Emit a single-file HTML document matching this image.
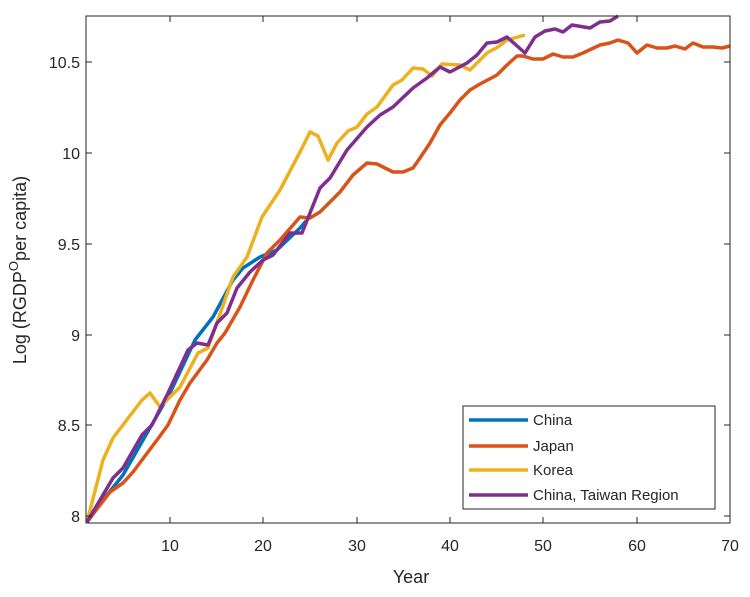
<!DOCTYPE html>
<html><head><meta charset="utf-8"><style>
body{margin:0;background:#fff;width:750px;height:592px;overflow:hidden}
svg text{font-family:"Liberation Sans",sans-serif;fill:#262626}
</style></head><body>
<svg width="750" height="592" viewBox="0 0 750 592">
<rect x="0" y="0" width="750" height="592" fill="#fff"/>
<g fill="none" stroke-width="3.5" stroke-linejoin="round">
<polyline stroke="#0072BD" points="87,522 107,495 123,475 170,393 195,340 213,317 233,280 243,268 260,257 277,250 300,228 306,221"/>
<polyline stroke="#D95319" points="87,522 110,492 123,483 133,472 157,440 168,425 180,400 190,383 207,360 217,343 225,333 240,307 253,280 267,253 280,240 300,217 310,218 320,212 340,192 353,175 367,163 377,164 393,172 403,172 413,168 420,158 430,143 440,125 450,113 460,100 470,90 480,84 497,75 507,65 517,56 523,56 533,59 543,59 553,54 563,57 573,57 583,53 600,45 610,43 618,40 628,43 637,53 647,45 657,48 667,48 675,46 685,49 693,43 703,47 713,47 722,48 730,46"/>
<polyline stroke="#EDB120" points="87,522 103,460 113,438 142,400 150,393 160,407 180,387 198,353 208,348 233,277 247,257 262,217 280,190 300,152 310,132 318,136 328,160 337,143 348,131 357,127 367,114 377,107 393,85 402,80 413,68 423,69 432,76 442,64 460,65 470,70 487,53 498,47 507,40 525,35"/>
<polyline stroke="#7E2F8E" points="87,522 113,478 123,468 142,435 152,425 168,393 188,350 197,343 208,345 217,323 227,313 237,288 250,272 263,260 273,255 290,233 302,233 320,188 330,178 347,150 367,127 380,115 393,107 413,88 427,78 440,67 450,72 467,63 477,55 487,43 497,42 507,37 525,53 535,37 545,31 555,29 563,32 572,25 590,28 600,22 610,21 618,16"/>
</g>
<rect x="86" y="16" width="644" height="507" fill="none" stroke="#262626" stroke-width="1"/>
<g stroke="#262626" stroke-width="1">
<path d="M170,523v-6M263,523v-6M357,523v-6M450,523v-6M543,523v-6M637,523v-6M170,16v6M263,16v6M357,16v6M450,16v6M543,16v6M637,16v6"/>
<path d="M86,516h6M86,425h6M86,335h6M86,244h6M86,153h6M86,62h6M730,516h-6M730,425h-6M730,335h-6M730,244h-6M730,153h-6M730,62h-6"/>
</g>
<g font-size="16" text-anchor="end">
<text x="80" y="522">8</text><text x="80" y="431">8.5</text><text x="80" y="341">9</text>
<text x="80" y="250">9.5</text><text x="80" y="159">10</text><text x="80" y="68">10.5</text>
</g>
<g font-size="16" text-anchor="middle">
<text x="170" y="551">10</text><text x="263" y="551">20</text><text x="357" y="551">30</text>
<text x="450" y="551">40</text><text x="543" y="551">50</text><text x="637" y="551">60</text><text x="730" y="551">70</text>
<text x="411" y="583" font-size="18">Year</text>
</g>
<text transform="translate(26,270) rotate(-90)" font-size="18" text-anchor="middle">Log (RGDP<tspan dy="-8" font-size="13">O</tspan><tspan dy="8">per capita)</tspan></text>
<rect x="463" y="406" width="252" height="103" fill="#fff" stroke="#262626" stroke-width="1"/>
<g stroke-width="3.5">
<line x1="469" y1="420" x2="528" y2="420" stroke="#0072BD"/>
<line x1="469" y1="446" x2="528" y2="446" stroke="#D95319"/>
<line x1="469" y1="470" x2="528" y2="470" stroke="#EDB120"/>
<line x1="469" y1="495" x2="528" y2="495" stroke="#7E2F8E"/>
</g>
<g font-size="15">
<text x="533" y="425">China</text><text x="533" y="451">Japan</text>
<text x="533" y="475">Korea</text><text x="533" y="500">China, Taiwan Region</text>
</g>
</svg>
</body></html>
